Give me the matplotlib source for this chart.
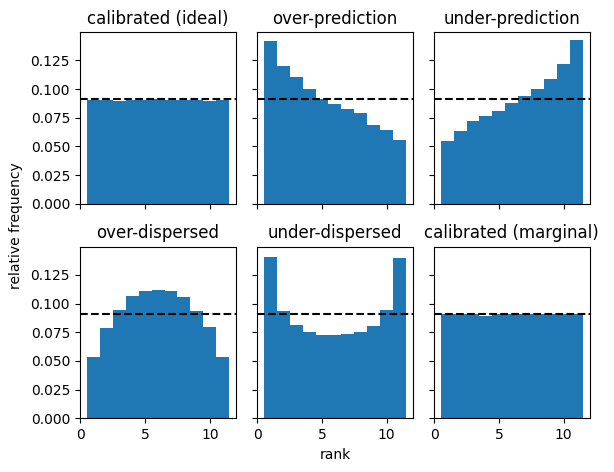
import numpy as np
import matplotlib.pyplot as plt

ranks = np.arange(1, 12)

titles = ['calibrated (ideal)', 'over-prediction', 'under-prediction',
          'over-dispersed', 'under-dispersed', 'calibrated (marginal)']

calibrated_ideal = [0.0908, 0.0907, 0.0895, 0.0905, 0.0908, 0.0910,
                    0.0907, 0.0906, 0.0905, 0.0893, 0.0907]
over_prediction = [0.1416, 0.1201, 0.1102, 0.1004, 0.0914, 0.0869,
                   0.0824, 0.0789, 0.0690, 0.0645, 0.0556]
under_prediction = [0.0547, 0.0636, 0.0717, 0.0762, 0.0806, 0.0878,
                    0.0941, 0.1004, 0.1084, 0.1219, 0.1425]
over_dispersed = [0.0535, 0.0786, 0.0947, 0.1064, 0.1109, 0.1118,
                  0.1109, 0.1054, 0.0938, 0.0795, 0.0535]
under_dispersed = [0.1404, 0.0938, 0.0812, 0.0750, 0.0723, 0.0723,
                   0.0732, 0.0750, 0.0803, 0.0947, 0.1395]
calibrated_marginal = [0.0906, 0.0907, 0.0905, 0.0895, 0.0906, 0.0907,
                       0.0906, 0.0907, 0.0906, 0.0906, 0.0905]

series = [calibrated_ideal, over_prediction, under_prediction,
          over_dispersed, under_dispersed, calibrated_marginal]

fig, axes = plt.subplots(2, 3, sharex=True, sharey=True, figsize=(6.14, 4.72), dpi=100)
fig.subplots_adjust(left=0.130, right=0.961, top=0.932, bottom=0.114,
                    wspace=0.13, hspace=0.25)

for ax, title, vals in zip(axes.flat, titles, series):
    ax.bar(ranks, vals, width=1.0)
    ax.axhline(1 / 11, color='k', ls='--')
    ax.set_title(title)

# common axis labels, centred on the grid of panels
fig.text(0.546, 0.036, 'rank', ha='center', va='center')
fig.text(0.026, 0.523, 'relative frequency', ha='center', va='center', rotation=90)

fig.savefig('out.png')
